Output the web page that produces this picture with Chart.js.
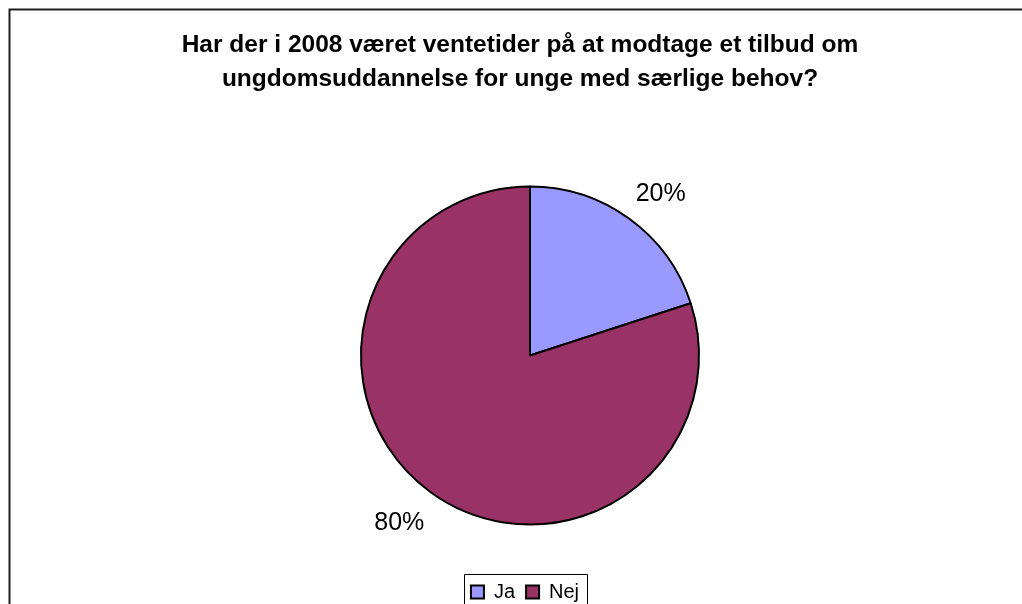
<!DOCTYPE html>
<html>
<head>
<meta charset="utf-8">
<title>Ventetider 2008</title>
<script src="https://cdn.jsdelivr.net/npm/chart.js@4/dist/chart.umd.min.js"></script>
<style>
  html, body { margin: 0; padding: 0; background: #ffffff; overflow: hidden; }
  #wrap { position: absolute; left: 0; top: 0; width: 1022px; height: 612px; }
</style>
</head>
<body>
<div id="wrap"><canvas id="chart" width="1022" height="612"></canvas></div>
<script>
// Survey answers
const titleLines = [
  'Har der i 2008 været ventetider på at modtage et tilbud om',
  'ungdomsuddannelse for unge med særlige behov?'
];
const categories = ['Ja', 'Nej'];
const shares = [20, 80];
const sliceColors = ['#9999FF', '#993366'];

const FONT = '"Liberation Sans", Arial, Helvetica, sans-serif';

// Thin outer frame (left and top edges of the plot sheet)
const framePlugin = {
  id: 'sheetFrame',
  beforeDraw(chart) {
    const ctx = chart.ctx;
    ctx.save();
    ctx.strokeStyle = '#1e1e1e';
    ctx.lineWidth = 2;
    ctx.beginPath();
    ctx.moveTo(9.5, chart.height + 5);
    ctx.lineTo(9.5, 9.5);
    ctx.lineTo(chart.width + 5, 9.5);
    ctx.stroke();
    ctx.restore();
  }
};

// Empty layout box on the left so the pie sits a little right of the title centre
const spacerPlugin = {
  id: 'leftSpacer',
  beforeInit(chart) {
    const box = {
      position: 'left', fullSize: false, weight: 100, options: {},
      left: 0, top: 0, right: 0, bottom: 0, width: 0, height: 0,
      isHorizontal() { return false; },
      update(maxWidth, maxHeight) { this.width = 20; this.height = maxHeight; },
      draw() {}
    };
    if (Chart.layouts && Chart.layouts.addBox) {
      Chart.layouts.addBox(chart, box);
    } else {
      box._layers = () => [{ z: 0, draw() {} }];
      (chart.boxes = chart.boxes || []).push(box);
    }
  },
  // nudge the legend block slightly left of the pie centre
  afterLayout(chart) {
    const lg = chart.legend;
    if (lg) { lg.left -= 5; lg.right -= 5; }
  }
};

// Percentage labels just outside each slice
const percentPlugin = {
  id: 'percentLabels',
  afterDatasetsDraw(chart) {
    const ctx = chart.ctx;
    const meta = chart.getDatasetMeta(0);
    const data = chart.data.datasets[0].data;
    const total = data.reduce((a, b) => a + b, 0);
    const turn = 2.5 * Math.PI / 180;
    ctx.save();
    ctx.font = '25px ' + FONT;
    ctx.fillStyle = '#000000';
    ctx.textAlign = 'center';
    ctx.textBaseline = 'middle';
    meta.data.forEach((arc, i) => {
      const p = arc.getProps(['x', 'y', 'startAngle', 'endAngle', 'outerRadius'], true);
      const mid = (p.startAngle + p.endAngle) / 2 + turn;
      const r = p.outerRadius + 41;
      const tx = p.x + Math.cos(mid) * r;
      const ty = p.y + Math.sin(mid) * r + 3;
      ctx.fillText(Math.round(data[i] / total * 100) + '%', tx, ty);
    });
    ctx.restore();
  }
};

// Border around the legend entries
const legendFramePlugin = {
  id: 'legendFrame',
  afterDraw(chart) {
    const lg = chart.legend;
    if (!lg || !lg.legendHitBoxes || !lg.legendHitBoxes.length) return;
    const hb = lg.legendHitBoxes;
    const first = hb[0], last = hb[hb.length - 1];
    const x0 = Math.round(first.left - 7) + 0.5;
    const x1 = Math.round(last.left + last.width + 8) + 0.5;
    const y0 = Math.round(first.top - 8) + 0.5;
    const y1 = chart.height + 5;
    const ctx = chart.ctx;
    ctx.save();
    ctx.strokeStyle = '#000000';
    ctx.lineWidth = 1;
    ctx.beginPath();
    ctx.moveTo(x0, y1);
    ctx.lineTo(x0, y0);
    ctx.lineTo(x1, y0);
    ctx.lineTo(x1, y1);
    ctx.stroke();
    ctx.restore();
  }
};

new Chart(document.getElementById('chart'), {
  type: 'pie',
  data: {
    labels: categories,
    datasets: [{
      data: shares,
      backgroundColor: sliceColors,
      borderColor: '#000000',
      borderWidth: 2
    }]
  },
  options: {
    responsive: false,
    animation: false,
    events: [],
    radius: 169,
    layout: { padding: { left: 18, right: 0, top: 0, bottom: 0 } },
    plugins: {
      title: {
        display: true,
        text: titleLines,
        color: '#000000',
        font: { family: FONT, size: 24.5, weight: 'bold', lineHeight: 34 / 24.5 },
        padding: { top: 28.5, bottom: 43.5 }
      },
      legend: {
        display: true,
        position: 'bottom',
        fullSize: false,
        labels: {
          color: '#000000',
          font: { family: FONT, size: 20 },
          boxWidth: 13,
          boxHeight: 13,
          padding: 11
        }
      },
      tooltip: { enabled: false }
    }
  },
  plugins: [framePlugin, spacerPlugin, percentPlugin, legendFramePlugin]
});
</script>
</body>
</html>
